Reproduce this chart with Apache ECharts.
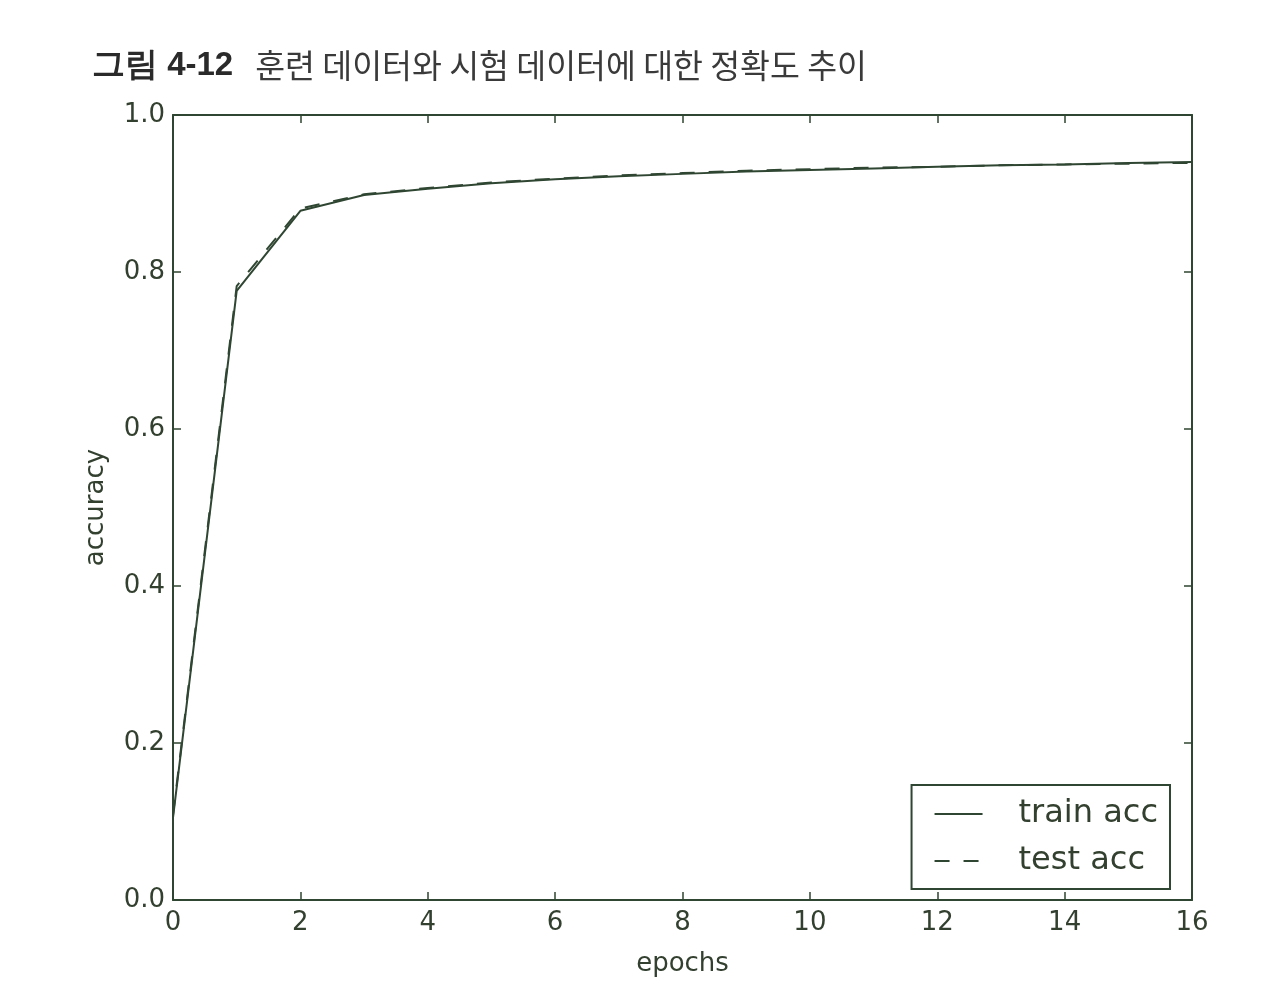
<!DOCTYPE html>
<html>
<head>
<meta charset="utf-8">
<script src="https://cdn.jsdelivr.net/npm/echarts@6/dist/echarts.min.js"></script>
<style>
  html, body { margin: 0; padding: 0; background: #fff; }
  #chart { width: 1275px; height: 1000px; }
</style>
</head>
<body>
<div id="chart"></div>
<script>
// --- Data ---
const epochs = [0, 1, 2, 3, 4, 5, 6, 7, 8, 9, 10, 11, 12, 13, 14, 15, 16];
const trainAcc = [0.105, 0.776, 0.878, 0.898, 0.906, 0.913, 0.918, 0.922, 0.925, 0.928, 0.930, 0.932, 0.934, 0.936, 0.937, 0.939, 0.940];
const testAcc  = [0.108, 0.782, 0.881, 0.899, 0.907, 0.914, 0.919, 0.923, 0.926, 0.929, 0.931, 0.933, 0.934, 0.936, 0.937, 0.938, 0.939];
const seriesNames = ['train acc', 'test acc'];

const ink = '#2f4632';
const textInk = '#33402f';
const tickFont = 'DejaVu Sans';

const chart = echarts.init(document.getElementById('chart'), null, { renderer: 'canvas' });

const pairs = (ys) => epochs.map((x, i) => [x, ys[i]]);

// frame axes: bottom/left carry labels, top/right only ticks (matplotlib classic box)
const frameAxis = (extra) => Object.assign({
    type: 'value',
    axisLine: { show: true, onZero: false, lineStyle: { color: ink, width: 2 } },
    axisTick: { show: true, inside: true, length: 8, lineStyle: { color: ink, width: 1.5 } },
    splitLine: { show: false }
}, extra);

chart.setOption({
    animation: false,
    backgroundColor: '#ffffff',
    title: {
        left: 87, top: 44,
        text: '{b|그림 4-12}{n|훈련 데이터와 시험 데이터에 대한 정확도 추이}',
        textStyle: {
            fontWeight: 'normal',
            rich: {
                b: { fontFamily: 'Liberation Sans', fontWeight: 'bold', fontSize: 33, color: '#2a2a2a' },
                n: { fontFamily: 'Noto Sans CJK KR', fontWeight: 'normal', fontSize: 32.5, color: '#3a3a3a',
                     padding: [0, 0, 0, 22] }
            }
        }
    },
    grid: { left: 173, top: 115, width: 1019, height: 785, containLabel: false },
    xAxis: [
        frameAxis({
            min: 0, max: 16, interval: 2, position: 'bottom',
            name: 'epochs', nameLocation: 'middle', nameGap: 51,
            nameTextStyle: { fontFamily: tickFont, fontSize: 26, color: textInk },
            axisLabel: { fontFamily: tickFont, fontSize: 26, color: textInk, margin: 10 }
        }),
        frameAxis({ min: 0, max: 16, interval: 2, position: 'top', axisLabel: { show: false } })
    ],
    yAxis: [
        frameAxis({
            min: 0, max: 1, interval: 0.2, position: 'left',
            name: 'accuracy', nameLocation: 'middle', nameGap: 64,
            nameTextStyle: { fontFamily: tickFont, fontSize: 26, color: textInk },
            axisLabel: { fontFamily: tickFont, fontSize: 26, color: textInk, margin: 8,
                         formatter: v => v.toFixed(1) }
        }),
        frameAxis({ min: 0, max: 1, interval: 0.2, position: 'right', axisLabel: { show: false } })
    ],
    legend: {
        data: seriesNames,
        orient: 'vertical',
        right: 1275 - 1170, top: 785,
        padding: [11, 12, 10, 22],
        itemWidth: 48, itemHeight: 2,
        itemGap: 11,
        itemStyle: { opacity: 0 },
        borderColor: ink, borderWidth: 2,
        backgroundColor: '#ffffff',
        textStyle: { fontFamily: tickFont, fontSize: 32, color: textInk, lineHeight: 36, padding: [0, 0, 0, 31] }
    },
    series: [
        {
            name: seriesNames[0], type: 'line', data: pairs(trainAcc),
            showSymbol: false, symbol: 'none',
            lineStyle: { color: ink, width: 2 }, itemStyle: { color: ink }
        },
        {
            name: seriesNames[1], type: 'line', data: pairs(testAcc),
            showSymbol: false, symbol: 'none',
            lineStyle: { color: ink, width: 2, type: [15, 14] }, itemStyle: { color: ink }
        }
    ]
});
</script>
</body>
</html>
